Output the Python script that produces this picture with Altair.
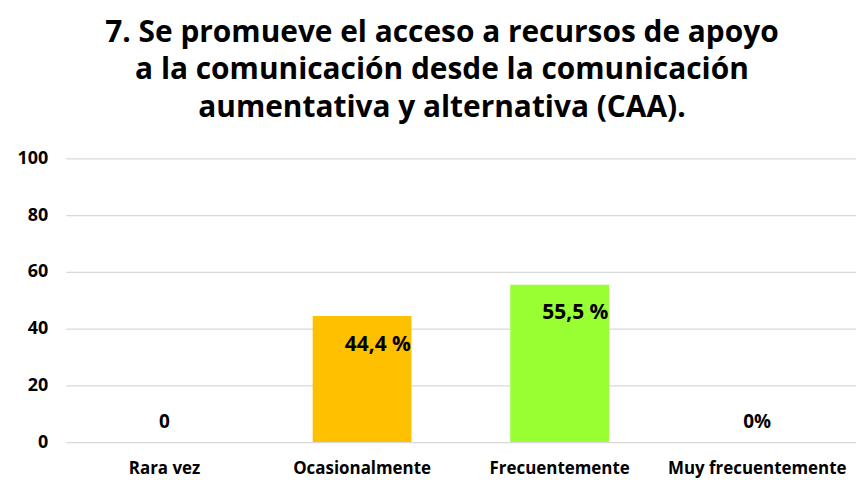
import altair as alt
import pandas as pd

categories = ["Rara vez", "Ocasionalmente", "Frecuentemente", "Muy frecuentemente"]
values = [0, 44.4, 55.5, 0]
labels = ["0", "44,4 %", "55,5 %", "0%"]
colors = ["#FFFFFF", "#FFC000", "#99FF33", "#FFFFFF"]
title_lines = [
    "7. Se promueve el acceso a recursos de apoyo",
    "a la comunicación desde la comunicación",
    "aumentativa y alternativa (CAA).",
]

df = pd.DataFrame({"cat": categories, "value": values, "label": labels, "color": colors})

FONT = "Open Sans"

x = alt.X("cat:N", sort=categories, title=None,
          scale=alt.Scale(paddingInner=0.5, paddingOuter=0.25),
          axis=alt.Axis(labelAngle=0, labelFont=FONT, labelFontSize=17, labelFontWeight="bold",
                        labelColor="black", ticks=False, domain=False, labelPadding=19,
                        labelBaseline="top", labelLimit=400))
y = alt.Y("value:Q", title=None,
          scale=alt.Scale(domain=[0, 100]),
          axis=alt.Axis(values=[0, 20, 40, 60, 80, 100], labelFont=FONT, labelFontSize=18,
                        labelFontWeight="bold", labelColor="black", ticks=False, domain=False,
                        gridColor="#D9D9D9", gridWidth=1.3, labelPadding=18))

base = alt.Chart(df)

bars = base.mark_bar().encode(
    x=x, y=y, color=alt.Color("color:N", scale=None)
)

txt_pos = base.transform_filter("datum.value > 0").mark_text(
    align="right", baseline="middle", dx=49, dy=29, font=FONT, fontSize=21, fontWeight="bold", color="black"
).encode(x=x, y=y, text="label:N")

txt_zero = base.transform_filter("datum.value <= 0").mark_text(
    align="center", baseline="middle", dy=-20, font=FONT, fontSize=19, fontWeight="bold", color="black"
).encode(x=x, y=y, text="label:N")

chart = alt.layer(bars, txt_pos, txt_zero).properties(
    width=794, height=285,
    autosize=alt.AutoSizeParams(type="none"),
    padding={"left": 58, "top": 150, "right": 0, "bottom": 37},
    title=alt.TitleParams(text=title_lines, font=FONT, fontSize=30, fontWeight="bold", color="black",
                          anchor="middle", lineHeight=37.5, offset=27, dx=-19),
).configure_view(stroke=None)

chart.save("out.html", embed_options={"renderer": "svg", "actions": False})
